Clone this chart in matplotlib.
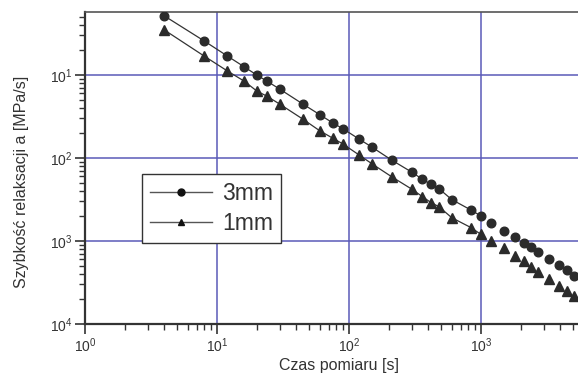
import numpy as np
import matplotlib
matplotlib.use('Agg')
import matplotlib.pyplot as plt
from matplotlib.ticker import FixedLocator, FixedFormatter, LogLocator, NullFormatter

plt.rcParams['font.family'] = ['Liberation Sans', 'DejaVu Sans']
plt.rcParams['mathtext.fontset'] = 'custom'
plt.rcParams['mathtext.rm'] = 'Liberation Sans'
plt.rcParams['mathtext.it'] = 'Liberation Sans'

# measurement times [s]
czas = [4, 8, 12, 16, 20, 24, 30, 45, 60, 75, 90, 120, 150, 210, 300, 360,
        420, 480, 600, 840, 1000, 1200, 1500, 1800, 2100, 2400, 2700, 3300,
        3900, 4500, 5100]

# relaxation rate [MPa/s]
a_3mm = [0.514, 0.257, 0.169, 0.126, 0.100, 0.084, 0.0673, 0.0444, 0.0333,
         0.0266, 0.0225, 0.0168, 0.01345, 0.00946, 0.00673, 0.00554, 0.0048,
         0.00427, 0.00316, 0.00236, 0.0020, 0.00166, 0.00133, 0.00111,
         0.000955, 0.00084, 0.000743, 0.000602, 0.00051, 0.000448, 0.000382]
a_1mm = [0.348, 0.169, 0.1117, 0.0847, 0.0642, 0.0553, 0.0444, 0.0292, 0.0213,
         0.0174, 0.01475, 0.0108, 0.00847, 0.00596, 0.0042, 0.00342, 0.00289,
         0.00259, 0.00191, 0.00145, 0.0012, 0.0010, 0.000817, 0.000665,
         0.000574, 0.00049, 0.000426, 0.000346, 0.000287, 0.00025, 0.00022]

# the connecting line only runs up to 1000 s
n_line = 21

ytick_vals = [1e-4, 1e-3, 1e-2, 1e-1]
ytick_labels = ['$10^4$', '$10^3$', '$10^2$', '$10^1$']
xtick_vals = [1, 10, 100, 1000]
xtick_labels = ['$10^0$', '$10^1$', '$10^2$', '$10^3$']

dark = '#2b2b2b'
grid_col = '#5a5ab8'

fig = plt.figure(figsize=(5.78, 3.79), dpi=100)
ax = fig.add_axes([85 / 578, 55 / 379, 493 / 578, 312.5 / 379])
ax.set_xscale('log')
ax.set_yscale('log')
ax.set_xlim(1, 10 ** (493 / 132))
ax.set_ylim(1e-4, 10 ** (-1 + 63.5 / 83))

ax.grid(True, which='major', color=grid_col, linewidth=1.1)
ax.set_axisbelow(True)

ax.plot(czas[:n_line], a_3mm[:n_line], color='#333333', linewidth=0.9, zorder=3)
ax.plot(czas[:n_line], a_1mm[:n_line], color='#333333', linewidth=0.9, zorder=3)
ax.plot(czas, a_3mm, linestyle='none', marker='o', markersize=6.2,
        color=dark, markeredgecolor=dark, zorder=4)
ax.plot(czas, a_1mm, linestyle='none', marker='^', markersize=6.8,
        color=dark, markeredgecolor=dark, zorder=4)

# legend handles
h1, = ax.plot([], [], color='#555555', linewidth=1, marker='o', markersize=5,
              markerfacecolor='#111111', markeredgecolor='#111111')
h2, = ax.plot([], [], color='#555555', linewidth=1, marker='^', markersize=5,
              markerfacecolor='#111111', markeredgecolor='#111111')
leg = ax.legend([h1, h2], ['3mm', '1mm'], loc='upper left',
                bbox_to_anchor=((142 - 85) / 493, (324 - 174) / 312.5),
                fontsize=16.5, frameon=True, fancybox=False, handlelength=2.7,
                handletextpad=0.45, borderpad=0.35, labelspacing=0.3,
                borderaxespad=0)
leg.get_frame().set_edgecolor('#333333')
leg.get_frame().set_linewidth(1.0)
leg.get_frame().set_alpha(1)
for t in leg.get_texts():
    t.set_color('#333333')

ax.yaxis.set_major_locator(FixedLocator(ytick_vals))
ax.yaxis.set_major_formatter(FixedFormatter(ytick_labels))
ax.xaxis.set_major_locator(FixedLocator(xtick_vals))
ax.xaxis.set_major_formatter(FixedFormatter(xtick_labels))
ax.yaxis.set_minor_locator(LogLocator(base=10, subs=np.arange(2, 10), numticks=20))
ax.xaxis.set_minor_locator(LogLocator(base=10, subs=np.arange(2, 10), numticks=20))
ax.yaxis.set_minor_formatter(NullFormatter())
ax.xaxis.set_minor_formatter(NullFormatter())

ax.tick_params(which='major', length=7, width=1.2, color='#333333',
               labelsize=10, labelcolor='#333333', pad=2)
ax.tick_params(which='minor', length=4, width=1.0, color='#333333')

for side in ['left', 'bottom']:
    ax.spines[side].set_linewidth(1.6)
    ax.spines[side].set_color('#333333')
ax.spines['top'].set_linewidth(1.2)
ax.spines['top'].set_color('#555555')
ax.spines['right'].set_visible(False)

ax.set_xlabel('Czas pomiaru [s]', fontsize=11.5, color='#333333')
ax.set_ylabel('Szybkość relaksacji a [MPa/s]', fontsize=11.5, color='#333333')
ax.xaxis.set_label_coords((339 - 85) / 493, -0.11)
ax.yaxis.set_label_coords((29 - 85) / 493, (324 - 182) / 312.5)

fig.savefig('out.png', dpi=100)
